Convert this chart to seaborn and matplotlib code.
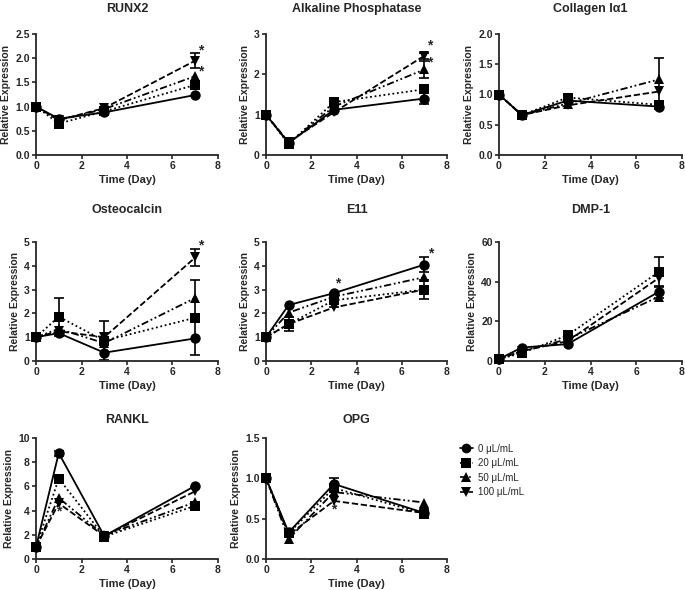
import pandas as pd
import seaborn as sns
import matplotlib.pyplot as plt
from matplotlib.lines import Line2D

# ==========================================
# DATOS
# ==========================================
days = [0, 1, 3, 7]
conc_labels = ["0 μL/mL", "20 μL/mL", "50 μL/mL", "100 μL/mL"]

# cada lista: [0, 20, 50, 100 μL/mL] x días
runx2 = [[1.0, 0.75, 0.88, 1.24], [1.0, 0.65, 0.90, 1.45],
         [1.0, 0.72, 0.95, 1.63], [1.0, 0.72, 0.97, 1.95]]
alp = [[1.0, 0.30, 1.12, 1.40], [1.0, 0.27, 1.31, 1.63],
       [1.0, 0.30, 1.20, 2.12], [1.0, 0.32, 1.06, 2.46]]
col1a1 = [[1.0, 0.66, 0.90, 0.80], [1.0, 0.66, 0.95, 0.83],
          [1.0, 0.66, 0.85, 1.25], [1.0, 0.66, 0.82, 1.05]]
osteocalcin = [[1.0, 1.17, 0.35, 0.95], [1.0, 1.86, 0.85, 1.82],
               [1.0, 1.35, 0.75, 2.65], [1.0, 1.25, 1.00, 4.35]]
e11 = [[1.0, 2.35, 2.85, 4.05], [1.0, 1.55, 2.55, 3.00],
       [1.0, 2.03, 2.70, 3.52], [1.0, 1.55, 2.25, 3.00]]
dmp1 = [[1.0, 6.8, 8.5, 35.0], [1.0, 4.0, 13.0, 45.0],
        [1.0, 5.0, 11.0, 32.5], [1.0, 5.0, 10.0, 42.0]]
rankl = [[1.0, 8.75, 1.9, 6.05], [1.0, 6.65, 1.85, 4.40],
         [1.0, 5.05, 1.95, 4.70], [1.0, 4.60, 1.90, 5.60]]
opg = [[1.0, 0.33, 0.93, 0.57], [1.0, 0.32, 0.88, 0.56],
       [1.0, 0.25, 0.83, 0.70], [1.0, 0.30, 0.72, 0.57]]

genes = ["RUNX2", "Alkaline Phosphatase", "Collagen Iα1", "Osteocalcin",
         "E11", "DMP-1", "RANKL", "OPG"]
values = [runx2, alp, col1a1, osteocalcin, e11, dmp1, rankl, opg]
y_max = [2.5, 3, 2.0, 5, 5, 60, 10, 1.5]
y_step = [0.5, 1, 0.5, 1, 1, 20, 2, 0.5]
y_fmt = ["{:.1f}", "{:.0f}", "{:.1f}", "{:.0f}", "{:.0f}", "{:.0f}", "{:.0f}", "{:.1f}"]

# barras de error visibles: (gen, concentración, día, error)
error_bars = [
    (0, 3, 7, 0.15), (1, 0, 7, 0.13), (1, 2, 7, 0.22), (1, 3, 7, 0.08),
    (2, 2, 7, 0.35), (3, 1, 1, 0.80), (3, 1, 3, 0.82), (3, 0, 7, 0.70),
    (3, 2, 7, 0.75), (3, 3, 7, 0.35), (4, 3, 1, 0.30), (4, 1, 3, 0.30),
    (4, 0, 7, 0.30), (4, 1, 7, 0.40), (5, 1, 7, 7.5), (5, 0, 7, 3.0),
    (6, 0, 1, 0.2), (7, 0, 3, 0.07),
]
# asteriscos: (gen, x, y)
stars = [(0, 7.25, 2.17), (0, 7.25, 1.72), (1, 7.25, 2.72), (1, 7.25, 2.30),
         (3, 7.25, 4.85), (4, 3.15, 3.25), (4, 7.3, 4.5), (6, 1.0, 3.9),
         (7, 3.0, 0.62)]

# ==========================================
# ESTILO
# ==========================================
sns.set_style("ticks")
plt.rcParams['font.family'] = ['Liberation Sans', 'DejaVu Sans']
plt.rcParams['font.weight'] = 'bold'

markers = {c: m for c, m in zip(conc_labels, ['o', 's', '^', 'v'])}
dashes = {conc_labels[0]: '', conc_labels[1]: (1, 1.5),
          conc_labels[2]: (4, 1.5, 1, 1.5, 1, 1.5), conc_labels[3]: (3.5, 1.5)}
palette = {c: 'black' for c in conc_labels}

W, H = 685, 590
fig = plt.figure(figsize=(W / 100, H / 100), dpi=100)

cols_px = [(36, 218), (266, 447), (499, 682)]
rows_px = [(34, 155), (242, 361), (438, 559)]
title_pad = [16, 21, 11]

for i, gene in enumerate(genes):
    r, c = divmod(i, 3)
    x0, x1 = cols_px[c]
    t0, t1 = rows_px[r]
    ax = fig.add_axes([x0 / W, 1 - t1 / H, (x1 - x0) / W, (t1 - t0) / H])

    rows = []
    for k, conc in enumerate(conc_labels):
        for d, v in zip(days, values[i][k]):
            rows.append({"Day": d, "Expr": v, "Conc": conc})
    df = pd.DataFrame(rows)

    for gi, k, d, e in error_bars:
        if gi == i:
            v = values[i][k][days.index(d)]
            ax.errorbar(d, v, yerr=e, fmt='none', ecolor='black',
                        elinewidth=1.2, capsize=3.5, capthick=1.2, zorder=2)

    sns.lineplot(data=df, x="Day", y="Expr", hue="Conc", style="Conc",
                 markers=markers, dashes=dashes, palette=palette,
                 markersize=7.5, markeredgewidth=0, linewidth=1.3,
                 legend=False, ax=ax, zorder=3, clip_on=False)

    for gi, sx, sy in stars:
        if gi == i:
            ax.text(sx, sy, "*", ha='center', va='center', fontsize=10,
                    fontweight='bold')

    ax.set_xlim(0, 8)
    ax.set_ylim(0, y_max[i])
    ax.set_xticks([0, 2, 4, 6, 8])
    yt = [j * y_step[i] for j in range(int(round(y_max[i] / y_step[i])) + 1)]
    ax.set_yticks(yt)
    ax.set_yticklabels([y_fmt[i].format(t) for t in yt])
    ax.tick_params(labelsize=7.5, width=1.2, length=3, pad=1.5)
    for lab in ax.get_xticklabels() + ax.get_yticklabels():
        lab.set_fontweight('bold')
    for s in ['left', 'bottom']:
        ax.spines[s].set_linewidth(1.3)
    sns.despine(ax=ax)
    ax.set_xlabel("Time (Day)", fontsize=8, fontweight='bold', labelpad=3)
    ax.set_ylabel("Relative Expression", fontsize=7.5, fontweight='bold',
                  labelpad=3)
    ax.set_title(gene, fontsize=9, fontweight='bold', pad=title_pad[r])

# leyenda
handles = []
for conc in conc_labels:
    d = dashes[conc]
    h = Line2D([0], [0], color='black', marker=markers[conc], markersize=7,
               markeredgewidth=0, linewidth=1.2,
               linestyle='-' if d == '' else (0, d))
    handles.append(h)
fig.legend(handles, conc_labels, loc='upper left',
           bbox_to_anchor=(456 / W, 1 - 440 / H), frameon=False,
           fontsize=7, handlelength=1.3, handletextpad=0.6,
           labelspacing=0.45, borderaxespad=0)
for t in fig.legends[0].get_texts():
    t.set_fontweight('normal')

fig.savefig("out.png", dpi=100)
